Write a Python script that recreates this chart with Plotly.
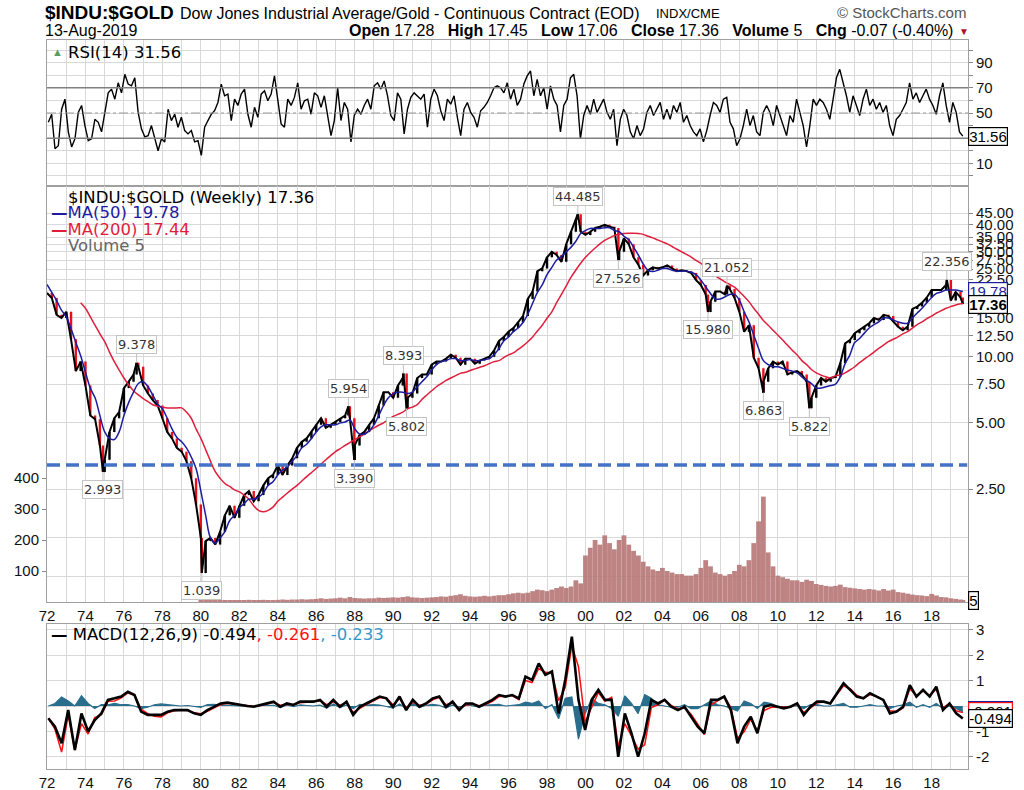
import numpy as np
import plotly.graph_objects as go

W, H = 1024, 790
L_PX, R_PX, T_PX, B_PX = 47, 968, 40, 769          # plot area in pixels
ARIAL = "Arial, Liberation Sans, sans-serif"
VERD = "DejaVu Sans, Verdana, sans-serif"


def px(x):
    return (x - L_PX) / (R_PX - L_PX)


def py(y):
    return (B_PX - y) / (B_PX - T_PX)


LAST = 2019.62

price_close = [
    19.5, 18.5, 15.5, 15.0, 16.0, 12.0, 8.6, 9.5, 7.4, 5.4, 5.2, 3.95,
    3.4, 4.55, 5.25, 5.6, 7.2, 7.7, 8.3, 9.0, 7.4, 6.8, 6.35, 6.0,
    5.25, 4.55, 4.25, 3.85, 3.7, 3.35, 2.8, 2.13, 1.5, 1.45, 1.5, 1.4,
    1.6, 1.9, 2.1, 1.85, 2.1, 2.35, 2.45, 2.2, 2.35, 2.6, 2.8, 2.9,
    3.2, 2.9, 3.2, 3.45, 3.85, 4.1, 4.25, 4.55, 4.9, 5.25, 4.75, 4.9,
    5.05, 5.25, 5.4, 5.25, 3.95, 4.4, 4.55, 4.9, 5.25, 6.0, 6.9, 6.9,
    6.5, 7.4, 8.0, 6.5, 6.8, 8.0, 8.3, 8.3, 9.2, 9.5, 9.5, 9.8,
    10.2, 9.9, 9.2, 9.8, 9.8, 9.3, 9.6, 9.8, 10.0, 10.7, 11.8, 12.3,
    13.0, 13.5, 14.3, 15.3, 18.3, 19.8, 24.5, 25.2, 28.3, 30.0, 29.0, 27.0,
    32.5, 37.0, 42.0, 37.0, 35.8, 37.0, 38.5, 39.0, 39.8, 39.0, 38.5, 30.0,
    34.5, 32.5, 28.3, 26.2, 23.4, 24.7, 25.5, 25.2, 25.5, 26.0, 25.2, 24.5,
    24.7, 24.5, 24.0, 22.3, 21.2, 19.2, 17.8, 19.8, 19.8, 19.2, 20.3, 18.5,
    16.0, 13.0, 13.9, 9.9, 8.85, 7.7, 8.85, 9.5, 9.2, 9.5, 8.3, 8.5,
    8.6, 8.3, 7.7, 6.5, 7.4, 8.0, 7.7, 8.0, 8.1, 9.35, 11.5, 11.9,
    12.8, 13.2, 13.7, 14.2, 15.0, 14.7, 15.5, 15.3, 14.4, 13.7, 13.2, 13.7,
    16.5, 16.9, 17.6, 18.6, 20.1, 20.1, 20.1, 21.2, 18.0, 19.7, 18.6, 17.36,
]

ma50 = [
    21.3, 19.6, 18.0, 16.3, 15.2, 13.4, 11.6, 10.1, 8.5, 7.2, 6.5, 5.4,
    4.55, 4.25, 4.2, 4.55, 5.4, 6.2, 6.9, 7.55, 7.7, 7.3, 6.7, 6.1,
    5.8, 5.25, 4.7, 4.3, 4.1, 3.85, 3.5, 3.1, 2.45, 1.9, 1.5, 1.42,
    1.5, 1.6, 1.8, 1.9, 2.05, 2.15, 2.25, 2.25, 2.3, 2.4, 2.6, 2.7,
    2.9, 3.05, 3.15, 3.35, 3.55, 3.85, 4.0, 4.25, 4.55, 4.8, 4.9, 4.9,
    4.9, 5.0, 5.05, 5.15, 4.7, 4.45, 4.45, 4.6, 4.9, 5.4, 6.0, 6.5,
    6.8, 6.9, 6.9, 6.8, 6.9, 7.3, 7.7, 8.1, 8.7, 9.2, 9.5, 9.6,
    9.8, 9.8, 9.6, 9.6, 9.7, 9.6, 9.6, 9.7, 9.8, 10.2, 10.9, 11.8,
    12.3, 13.0, 13.5, 14.3, 15.6, 17.5, 19.6, 21.2, 23.6, 25.5, 27.5, 28.6,
    30.0, 31.5, 33.5, 36.3, 37.5, 38.3, 38.3, 38.3, 38.6, 38.6, 37.5, 37.0,
    35.3, 34.0, 31.5, 29.0, 26.4, 24.7, 24.4, 24.7, 25.2, 25.2, 24.7, 24.5,
    24.5, 24.5, 24.2, 23.6, 22.3, 20.8, 19.4, 18.3, 18.3, 18.7, 19.2, 19.2,
    18.1, 16.0, 14.4, 12.55, 10.9, 9.6, 9.2, 9.0, 9.0, 8.85, 8.7, 8.6,
    8.45, 8.1, 7.8, 7.55, 7.2, 7.2, 7.3, 7.4, 7.5, 8.1, 9.3, 10.2,
    11.6, 12.1, 12.8, 13.5, 14.0, 14.4, 15.0, 15.0, 14.7, 14.4, 14.2, 14.2,
    15.0, 15.8, 16.6, 17.6, 18.6, 19.4, 19.7, 20.1, 20.1, 20.1, 19.9, 19.78,
]

ma200 = [
    None, None, None, None, None, None, None, 17.6, 16.6, 15.2, 13.9, 12.7,
    11.7, 10.5, 9.5, 8.7, 8.0, 7.43, 7.0, 6.7, 6.45, 6.24, 6.05, 5.95,
    5.9, 5.85, 5.85, 5.85, 5.85, 5.6, 5.25, 4.7, 4.25, 3.78, 3.35, 3.0,
    2.8, 2.65, 2.57, 2.48, 2.43, 2.35, 2.25, 2.1, 2.0, 1.97, 2.0, 2.07,
    2.2, 2.3, 2.4, 2.5, 2.6, 2.72, 2.85, 2.97, 3.1, 3.25, 3.4, 3.55,
    3.7, 3.82, 3.95, 4.07, 4.2, 4.32, 4.45, 4.6, 4.75, 4.88, 5.0, 5.17,
    5.35, 5.47, 5.6, 5.8, 5.9, 6.05, 6.4, 6.7, 7.0, 7.3, 7.55, 7.8,
    8.0, 8.2, 8.4, 8.5, 8.65, 8.8, 8.95, 9.1, 9.3, 9.5, 9.6, 9.9,
    10.2, 10.4, 10.8, 11.2, 11.7, 12.3, 13.1, 13.9, 14.95, 16.0, 17.6, 19.2,
    21.0, 23.0, 24.8, 26.6, 28.3, 29.8, 31.2, 32.6, 33.8, 34.7, 35.6, 36.0,
    36.3, 36.4, 36.4, 36.3, 36.0, 35.3, 34.7, 34.0, 33.3, 32.6, 31.7, 30.8,
    30.0, 29.2, 28.4, 27.4, 26.6, 25.3, 24.3, 23.4, 22.6, 21.9, 21.3, 20.7,
    19.8, 18.8, 17.8, 16.6, 15.6, 14.6, 13.9, 13.2, 12.55, 11.9, 11.3, 10.7,
    10.2, 9.6, 9.2, 8.75, 8.45, 8.25, 8.1, 8.0, 8.2, 8.25, 8.45, 8.7,
    9.0, 9.4, 9.75, 10.1, 10.5, 10.9, 11.3, 11.7, 12.0, 12.3, 12.7, 13.0,
    13.5, 14.0, 14.4, 14.9, 15.3, 15.8, 16.2, 16.6, 16.9, 17.2, 17.4, 17.44,
]

# volume, quarterly from 1980.0 + last bar
volume = [
    6, 5, 5, 4, 5, 6, 5, 5, 6, 6, 7, 6, 6, 7, 6, 6,
    7, 8, 7, 8, 8, 9, 8, 9, 10, 12, 10, 11, 12, 14, 12, 16,
    13, 12, 11, 12, 12, 14, 13, 14, 15, 14, 16, 18, 15, 14, 13, 14,
    15, 16, 18, 17, 20, 22, 25, 20, 18, 17, 18, 20, 18, 20, 22, 22,
    25, 28, 30, 28, 30, 35, 40, 38, 35, 40, 45, 50, 45, 50, 70, 60,
    150, 175, 200, 185, 215, 190, 170, 200, 215, 185, 165, 150,
    130, 115, 105, 100, 110, 100, 95, 90, 90, 85, 85, 90,
    110, 135, 115, 95, 90, 85, 90, 100, 120, 115, 135, 190,
    260, 340, 160, 115, 85, 80, 75, 70, 70, 65, 72, 68,
    58, 55, 52, 50, 52, 56, 48, 46, 44, 42, 40, 42,
    40, 37, 42, 37, 40, 32, 30, 27, 24, 22, 21, 19,
    26, 21, 16, 15, 12, 10, 8, 5,
]

# labelled highs / lows
ext_years = [1974.91, 1976.66, 1980.05, 1987.67, 1987.98, 1990.53, 1990.7,
             1999.6, 2001.71, 2006.37, 2007.36, 2009.25, 2011.64, 2018.79]
ext_vals = [2.993, 9.378, 1.039, 5.954, 3.390, 8.393, 5.802,
            44.485, 27.526, 15.980, 21.052, 6.863, 5.822, 22.356]
ext_side = [1, -1, 1, -1, 1, -1, 1, -1, 1, 1, -1, 1, 1, -1]  # 1 = label below

guide_level = 3.22

rsi = [
    42.6, 49, 21.6, 24, 53, 61, 35, 23, 29.5, 50.5,
    56, 40, 28, 29.5, 45, 42.6, 35, 50.5, 66, 69,
    61, 74, 66, 80.8, 73, 71.6, 78, 50.5, 37.4, 31,
    32, 40, 29.5, 20, 29.5, 27, 53, 44, 49, 38.7,
    46.6, 36, 33.4, 36, 27, 28, 16.3, 38.7, 44, 49,
    51.8, 58.4, 73, 63.7, 65, 44, 61, 56, 65, 69,
    49, 38.7, 54.5, 46.6, 65, 67.6, 59.7, 65, 79.5, 61,
    41.3, 38.7, 61, 56, 62.4, 74, 53, 59.7, 61, 49,
    66, 63.7, 54.5, 63.7, 49, 32, 44, 70, 44, 58.4,
    53, 27, 48, 53, 49, 56, 61, 53, 71.6, 74,
    69, 75.5, 63.7, 48, 44, 66, 61, 33.4, 53, 62.4,
    66, 63.7, 61, 65, 38.7, 61, 69, 63.7, 51.8, 44,
    61, 57, 63.7, 46.6, 32, 53, 58.4, 50.5, 46.6, 38.7,
    51.8, 54.5, 58.4, 63.7, 70, 71.6,
    70, 66, 74, 61, 69, 56, 61, 73, 79.5, 83.4,
    63.7, 76.8, 63.7, 70, 53, 71.6, 61, 56, 35, 56,
    61, 78, 80.8, 63.7, 29.5, 48, 56, 49, 61, 50.5,
    56, 61, 50.5, 45, 53, 24, 45, 53, 48, 35,
    29.5, 40, 32, 37.4, 50.5, 56, 48, 53, 58.4, 45,
    53, 45, 56, 50.5, 58.4, 42.6, 48, 40, 35, 32,
    37.4, 27, 36, 48, 58.4, 56, 50.5, 61, 62.4, 42.6,
    37.4, 24, 29.5, 40, 53, 40, 48, 35, 32, 50.5,
    56, 50.5, 40, 56, 48, 38.7, 32, 48, 42.6, 61,
    50.5, 40, 23, 40, 61, 56, 61, 58.4, 53, 45,
    61, 78, 84.7, 74, 63.7, 50.5, 63.7, 56, 48, 61,
    69, 56, 61, 53, 58.4, 50.5, 56, 40, 32, 45,
    48, 53, 58.4, 74, 61, 66, 58.4, 63.7, 69, 61,
    56, 49, 63.7, 74, 56, 42.6, 58.4, 50.5, 35, 31.56,
]

macd = [
    -0.48, -0.81, -1.46, -0.16, -1.73, -0.29, -1.0, -0.55, -0.29, 0.24,
    0.3, 0.37, 0.56, 0.43, -0.22, -0.35, -0.35, -0.35, -0.22, -0.16,
    -0.16, -0.16, -0.29, -0.35, -0.16, -0.03, 0.1, 0.13, 0.08, 0.04,
    0.0, -0.03, 0.04, 0.1, 0.17, -0.03, 0.1, 0.04, 0.17, 0.17,
    0.17, 0.24, -0.03, 0.24, -0.03, 0.17, -0.35, -0.03, 0.1, 0.24,
    0.37, 0.3, -0.03, 0.37, -0.16, 0.24, -0.03, 0.1, 0.3, 0.37,
    -0.03, 0.17, -0.16, 0.1, 0.1, -0.03, 0.1, 0.24, 0.43, 0.37, 0.43,
    0.3, 1.15, 1.02, 1.67, 1.22, 1.35, -0.29, 1.02, 2.72, 0.24,
    -0.94, 0.24, 0.63, 0.24, 0.24, -1.99, -0.29, -1.07, -1.99, -1.07,
    0.24, 0.1, 0.24, -0.03, -0.16, -0.03, -0.42, -0.81, -1.07, 0.24,
    0.24, 0.37, -0.16, -1.46, -0.81, -0.42, -1.07, -0.03, 0.04, -0.03,
    -0.09, -0.03, 0.1, -0.35, -0.03, 0.17, 0.17, 0.1, 0.5, 0.89,
    0.63, 0.37, 0.3, 0.5, 0.37, 0.24, -0.29, -0.22, -0.03, 0.82,
    0.37, 0.63, 0.37, 0.76, -0.16, 0.1, -0.29, -0.494,
]

macd_hist = [
    0.0, 0.1, 0.35, 0.2, 0.0, 0.4, 0.1, -0.1, 0.05, 0.05,
    0.1, 0.05, 0.05, 0.0, -0.1, -0.05, 0.05, 0.08, 0.05, 0.03,
    0.0, 0.02, -0.03, -0.05, 0.05, 0.06, 0.04, 0.02, 0.0, 0.0,
    0.0, -0.02, 0.02, 0.03, 0.03, -0.06, 0.04, -0.02, 0.04, 0.02,
    0.0, 0.03, -0.08, 0.08, -0.06, 0.04, -0.1, 0.06, 0.04, 0.05,
    0.04, -0.02, -0.08, 0.08, -0.1, 0.1, -0.06, 0.03, 0.06, 0.03,
    -0.08, 0.04, -0.06, 0.06, 0.02, -0.04, 0.04, 0.06, 0.06, 0.0, 0.02,
    0.05, 0.15, 0.1, 0.2, -0.1, 0.05, -0.5, 0.3, 0.35, -1.3,
    -0.3, 0.3, 0.1, 0.05, -0.1, -0.4, 0.4, 0.1, -0.3, 0.45,
    0.3, 0.05, 0.0, -0.05, -0.05, 0.05, -0.1, -0.1, 0.05, 0.2,
    0.05, 0.0, -0.1, -0.2, 0.2, 0.1, -0.1, 0.15, 0.1, 0.0,
    -0.05, 0.0, 0.0, -0.1, 0.05, 0.05, 0.0, 0.0, 0.05, 0.1,
    -0.05, -0.05, 0.0, 0.05, 0.0, 0.0, -0.1, 0.0, 0.05, 0.15,
    -0.05, 0.05, -0.05, 0.1, -0.1, 0.0, -0.1, -0.233,
]

price_ticks = [2.5, 5, 7.5, 10, 12.5, 15, 17.5, 20, 22.5, 25, 27.5, 30, 32.5, 35, 40, 45]
price_hidden = [17.5, 20]          # labels covered by the value tags
rsi_labels = [10, 50, 70, 90]
macd_labels = [-2, -1, 1, 2, 3]
tick_years = list(range(1972, 2020))
year_labels = [f"{y % 100:02d}" if y % 2 == 0 else "" for y in tick_years]

# ---- x positions
q_x = list(1972 + 0.25 * np.arange(len(price_close) - 1)) + [LAST]
vol_x = list(1980 + 0.25 * np.arange(len(volume) - 1)) + [LAST]
rsi_x = np.linspace(1972.07, LAST, len(rsi))
macd_x = np.linspace(1972.07, LAST, len(macd))
signal = [m - h for m, h in zip(macd, macd_hist)]

# price bars: closes plus labelled extremes, open = previous close
pts = sorted(list(zip(q_x, price_close)) + list(zip(ext_years, ext_vals)))
bx = [p[0] for p in pts]
bc = [p[1] for p in pts]
bo = [bc[0]] + bc[:-1]
bh = [max(a, b) for a, b in zip(bo, bc)]
bl = [min(a, b) for a, b in zip(bo, bc)]

GRID = "#d9d9d9"
BORDER = "#a0a0a0"
XR = [1972, 2019.89]

fig = go.Figure()

fig.add_trace(go.Scatter(x=rsi_x, y=rsi, xaxis="x", yaxis="y", mode="lines",
                         line=dict(color="black", width=1.4)))

fig.add_trace(go.Scatter(x=bx, y=bc, xaxis="x2", yaxis="y2", mode="lines",
                         line=dict(color="black", width=2)))
fig.add_trace(go.Ohlc(x=bx, open=bo, high=bh, low=bl, close=bc, xaxis="x2", yaxis="y2",
                      increasing_line_color="black", decreasing_line_color="#e8101c",
                      line_width=2.4, tickwidth=0.35))
fig.add_trace(go.Scatter(x=q_x, y=ma200, xaxis="x2", yaxis="y2", mode="lines",
                         line=dict(color="#e01e3c", width=1.5, shape="spline")))
fig.add_trace(go.Scatter(x=q_x, y=ma50, xaxis="x2", yaxis="y2", mode="lines",
                         line=dict(color="#1c1ca0", width=1.5, shape="spline")))
fig.add_trace(go.Scatter(x=[XR[0], 2019.85], y=[guide_level, guide_level], xaxis="x2", yaxis="y2",
                         mode="lines", line=dict(color="#4472c4", width=3.5, dash="13px,6px")))
fig.add_trace(go.Bar(x=vol_x, y=volume, xaxis="x2", yaxis="y3", width=0.25,
                     marker=dict(color="#b77777", line=dict(width=0)), opacity=0.9))

fig.add_trace(go.Scatter(x=macd_x, y=macd_hist, xaxis="x3", yaxis="y4", mode="lines",
                         fill="tozeroy", fillcolor="#2a6e8e",
                         line=dict(color="#2a6e8e", width=1.2)))
fig.add_trace(go.Scatter(x=macd_x, y=signal, xaxis="x3", yaxis="y4", mode="lines",
                         line=dict(color="#ff1010", width=1.5)))
fig.add_trace(go.Scatter(x=macd_x, y=macd, xaxis="x3", yaxis="y4", mode="lines",
                         line=dict(color="black", width=2.6)))

xcommon = dict(range=XR, tickmode="array", tickvals=tick_years, ticktext=year_labels,
               showgrid=True, gridcolor=GRID, zeroline=False, showline=True, mirror=True,
               linecolor=BORDER, ticks="", automargin=False,
               tickfont=dict(family=ARIAL, size=15, color="#111"))
ycommon = dict(showgrid=True, gridcolor=GRID, zeroline=False, showline=True, mirror=True,
               linecolor=BORDER, ticks="outside", ticklen=4, tickcolor="#888", side="right",
               automargin=False, tickfont=dict(family=ARIAL, size=15, color="#111"))

rsi_grid = list(range(0, 101, 10))
rsi_text = [str(v) if v in rsi_labels else "" for v in rsi_grid]
price_text = ["" if v in price_hidden else f"{v:.2f}" for v in price_ticks]
macd_grid = [-2, -1, 0, 1, 2, 3]
macd_text = [str(v) if v in macd_labels else "" for v in macd_grid]

fig.update_layout(
    width=W, height=H,
    margin=dict(l=L_PX, r=W - R_PX, t=T_PX, b=H - B_PX, autoexpand=False),
    paper_bgcolor="white", plot_bgcolor="white", showlegend=False,
    xaxis=dict(**xcommon, domain=[0, 1], anchor="y", showticklabels=False),
    xaxis2=dict(**xcommon, domain=[0, 1], anchor="y2", showticklabels=True,
                rangeslider=dict(visible=False)),
    xaxis3=dict(**xcommon, domain=[0, 1], anchor="y4", showticklabels=True),
    yaxis=dict(**ycommon, domain=[py(186), 1], range=[-8.05, 108.05], anchor="x",
               tickmode="array", tickvals=rsi_grid, ticktext=rsi_text),
    yaxis2=dict(**ycommon, domain=[py(602), py(186)], type="log", range=[-0.1155, 1.7763],
                anchor="x2", tickmode="array", tickvals=price_ticks, ticktext=price_text,
                minor=dict(tickvals=[1.0, 1.5], showgrid=True, gridcolor=GRID)),
    yaxis3=dict(overlaying="y2", side="left", range=[0, 1341.9], anchor="x2",
                tickmode="array", tickvals=[100, 200, 300, 400], showgrid=False,
                zeroline=False, ticks="outside", ticklen=4, tickcolor="#888", automargin=False,
                tickfont=dict(family=ARIAL, size=15, color="#111")),
    yaxis4=dict(**ycommon, domain=[0, py(624)], range=[-2.471, 3.216], anchor="x3",
                tickmode="array", tickvals=macd_grid, ticktext=macd_text),
)

# RSI reference lines
fig.add_shape(type="line", xref="x domain", yref="y", x0=0, x1=1, y0=70, y1=70,
              line=dict(color="#808080", width=1.5))
fig.add_shape(type="line", xref="x domain", yref="y", x0=0, x1=1, y0=30, y1=30,
              line=dict(color="#808080", width=1.5))
fig.add_shape(type="line", xref="x domain", yref="y", x0=0, x1=1, y0=50, y1=50,
              line=dict(color="#9a9a9a", width=1, dash="dashdot"))

ann = []


def text(x, y, s, size=15, color="black", family=ARIAL, anchor="left"):
    ann.append(dict(x=px(x), y=py(y), xref="paper", yref="paper", text=s, showarrow=False,
                    xanchor=anchor, yanchor="middle",
                    font=dict(family=family, size=size, color=color)))


# header
GAP = "&nbsp;&nbsp;&nbsp;"
text(43, 12, "<b>$INDU:$GOLD</b>", size=19)
text(178, 13, "Dow Jones Industrial Average/Gold - Continuous Contract (EOD)", size=16)
text(654, 13, "INDX/CME", size=13)
text(968, 12, "© StockCharts.com", size=15, color="#555", anchor="right")
text(43, 31, "13-Aug-2019", size=16)
text(955, 31, f"<b>Open</b> 17.28{GAP}<b>High</b> 17.45{GAP}<b>Low</b> 17.06{GAP}"
              f"<b>Close</b> 17.36{GAP}<b>Volume</b> 5{GAP}<b>Chg</b> -0.07 (-0.40%)",
     size=16, anchor="right")
text(957, 32, "▼", size=10, color="#b0102a")

# panel legends
LEG = 16.5
text(50, 52, "▲", size=11, color="#5c9c5c")
text(66, 52, "RSI(14) 31.56", size=LEG, family=VERD)
text(66, 197, "$INDU:$GOLD (Weekly) 17.36", size=LEG, family=VERD)
text(49, 213, "<b>—</b>MA(50) 19.78", size=LEG, family=VERD, color="#1c1ca0")
text(49, 229, "<b>—</b>MA(200) 17.44", size=LEG, family=VERD, color="#e01e3c")
text(66, 245, "Volume 5", size=LEG, family=VERD, color="#666")
text(49, 634, "<b>—</b> MACD(12,26,9) -0.494<span style='color:#ff1010'>, -0.261</span>"
              "<span style='color:#3399cc'>, -0.233</span>", size=LEG, family=VERD)

# labelled highs / lows
for xv, v, s in zip(ext_years, ext_vals, ext_side):
    ann.append(dict(x=xv, y=np.log10(v), xref="x2", yref="y2", text=f"{v:.3f}",
                    showarrow=True, arrowhead=0, arrowwidth=1, arrowcolor="#c0c0c0",
                    ax=0, ay=18 * s, bgcolor="white", bordercolor="#c4c4c4", borderwidth=1,
                    borderpad=1, font=dict(family=VERD, size=13, color="#333")))


def tag(yref, yv, s, color, bold=False):
    ann.append(dict(x=px(968), y=yv, xref="paper", yref=yref, text=f"<b>{s}</b>" if bold else s,
                    showarrow=False, xanchor="left", yanchor="middle", bgcolor="white",
                    bordercolor=color, borderwidth=1.2, borderpad=0,
                    font=dict(family=ARIAL, size=15,
                              color="#1c1ca0" if color == "#1c1ca0" else "black")))


tag("y", 31.56, "31.56", "black")
tag("y2", np.log10(19.78), "19.78", "#1c1ca0")
tag("y2", np.log10(17.36), "17.36", "black", bold=True)
tag("y3", 5, "5", "black")
# signal / histogram tags sit mostly behind the MACD tag, as on the original
tag("y4", -0.17, "-0.233", "#1c1ca0")
tag("y4", -0.2, "-0.261", "#ff1010")
tag("y4", -0.494, "-0.494", "black")

fig.update_layout(annotations=ann)

# the page's default 8px body margin would push the figure off the window
fig.write_html("out.html", config={"displayModeBar": False},
               post_script="document.body.style.margin='0px';"
                           "document.body.style.overflow='hidden';")
